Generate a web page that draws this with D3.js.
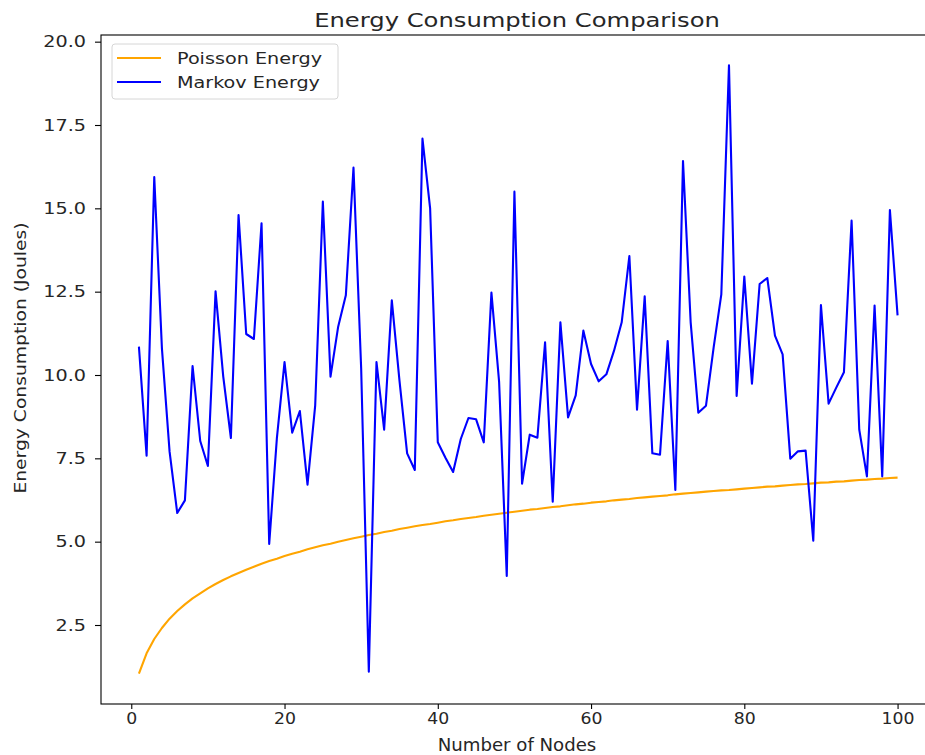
<!DOCTYPE html>
<html>
<head>
<meta charset="utf-8">
<script src="https://cdn.jsdelivr.net/npm/d3@7"></script>
<style>
  body { margin: 0; background: #fff; }
  text { font-family: "DejaVu Sans", sans-serif; fill: #262626; }
</style>
</head>
<body>
<div id="chart"></div>
<script>
const nodes = d3.range(1, 101);

const poissonEnergy = [
  1.04, 1.65, 2.08, 2.41, 2.69, 2.92, 3.12, 3.30, 3.45, 3.60,
  3.73, 3.85, 3.96, 4.06, 4.16, 4.25, 4.34, 4.42, 4.49, 4.57,
  4.64, 4.70, 4.77, 4.83, 4.89, 4.94, 5.00, 5.05, 5.10, 5.15,
  5.20, 5.24, 5.29, 5.33, 5.38, 5.42, 5.46, 5.50, 5.53, 5.57,
  5.61, 5.64, 5.68, 5.71, 5.74, 5.78, 5.81, 5.84, 5.87, 5.90,
  5.93, 5.96, 5.98, 6.01, 6.04, 6.06, 6.09, 6.12, 6.14, 6.17,
  6.19, 6.21, 6.24, 6.26, 6.28, 6.31, 6.33, 6.35, 6.37, 6.39,
  6.42, 6.44, 6.46, 6.48, 6.50, 6.52, 6.54, 6.55, 6.57, 6.59,
  6.61, 6.63, 6.65, 6.66, 6.68, 6.70, 6.72, 6.73, 6.75, 6.77,
  6.78, 6.80, 6.81, 6.83, 6.85, 6.86, 6.88, 6.89, 6.91, 6.92
];

const markovEnergy = [
  10.85, 7.58, 15.94, 10.8, 7.7, 5.86, 6.24, 10.27, 8.02, 7.27,
  12.51, 9.96, 8.11, 14.8, 11.23, 11.08, 14.55, 4.93, 8.1, 10.39,
  8.27, 8.92, 6.71, 9.08, 15.2, 9.95, 11.45, 12.39, 16.22, 10.2,
  1.10, 10.39, 8.36, 12.24, 9.83, 7.65, 7.15, 17.09, 15.0, 7.98,
  7.52, 7.09, 8.08, 8.71, 8.67, 7.98, 12.47, 9.8, 3.97, 15.5,
  6.74, 8.21, 8.12, 10.98, 6.2, 11.58, 8.73, 9.39, 11.33, 10.33,
  9.81, 10.02, 10.73, 11.58, 13.57, 8.96, 12.36, 7.65, 7.61, 11.02,
  6.55, 16.42, 11.58, 8.87, 9.08, 10.83, 12.42, 19.29, 9.37, 12.95,
  9.74, 12.73, 12.91, 11.18, 10.62, 7.49, 7.71, 7.73, 5.03, 12.1,
  9.14, 9.62, 10.08, 14.63, 8.36, 6.96, 12.08, 6.96, 14.95, 11.79
];

const xTicks = [0, 20, 40, 60, 80, 100];
const yTicks = [2.5, 5.0, 7.5, 10.0, 12.5, 15.0, 17.5, 20.0];

const width = 925, height = 755;
// picture is stretched sideways a bit, so text gets the same stretch
const sx = 1.2;

const svg = d3.select('#chart').append('svg')
  .attr('width', width)
  .attr('height', height);

const mLeft = 101, mRight = 935.5, mTop = 35, mBottom = 704;

const x = d3.scaleLinear().domain([-3.95, 104.95]).range([mLeft, mRight]);
const y = d3.scaleLinear().domain([0.13, 20.2]).range([mBottom, mTop]);

// lines
const line = d3.line().x((d, i) => x(nodes[i])).y(d => y(d));

svg.append('path')
  .datum(poissonEnergy)
  .attr('d', line)
  .attr('fill', 'none')
  .attr('stroke', 'orange')
  .attr('stroke-width', 2.1)
  .attr('stroke-linejoin', 'round');

svg.append('path')
  .datum(markovEnergy)
  .attr('d', line)
  .attr('fill', 'none')
  .attr('stroke', 'blue')
  .attr('stroke-width', 2.1)
  .attr('stroke-linejoin', 'round');

// spines
svg.append('rect')
  .attr('x', mLeft).attr('y', mTop)
  .attr('width', mRight - mLeft).attr('height', mBottom - mTop)
  .attr('fill', 'none')
  .attr('stroke', '#000')
  .attr('stroke-width', 1.1);

// x axis
const xAxis = svg.append('g')
  .attr('transform', `translate(0,${mBottom})`)
  .call(d3.axisBottom(x).tickValues(xTicks).tickSize(5).tickSizeOuter(0).tickPadding(4));
xAxis.select('.domain').remove();
xAxis.selectAll('text')
  .attr('font-size', 16)
  .attr('fill', '#262626')
  .attr('font-family', '"DejaVu Sans", sans-serif')
  .attr('transform', 'scale(1.08,1)');

// y axis
const yAxis = svg.append('g')
  .attr('transform', `translate(${mLeft},0)`)
  .call(d3.axisLeft(y).tickValues(yTicks).tickFormat(d3.format('.1f')).tickSize(6).tickSizeOuter(0).tickPadding(9));
yAxis.select('.domain').remove();
yAxis.selectAll('text')
  .attr('font-size', 16)
  .attr('fill', '#262626')
  .attr('font-family', '"DejaVu Sans", sans-serif')
  .attr('transform', `scale(${sx},1)`)
  .attr('x', -15 / sx);

svg.selectAll('.tick line').attr('stroke', '#000').attr('stroke-width', 1.1);

// title and axis labels
svg.append('text')
  .attr('transform', `translate(517,27) scale(${sx},1)`)
  .attr('text-anchor', 'middle')
  .attr('font-size', 20.2)
  .text('Energy Consumption Comparison');

svg.append('text')
  .attr('transform', `translate(517,751) scale(1.08,1)`)
  .attr('text-anchor', 'middle')
  .attr('font-size', 16.8)
  .text('Number of Nodes');

svg.append('text')
  .attr('transform', `translate(26,358) scale(1,1.17) rotate(-90)`)
  .attr('text-anchor', 'middle')
  .attr('font-size', 16)
  .text('Energy Consumption (Joules)');

// legend
const legend = svg.append('g').attr('transform', 'translate(112,44)');
legend.append('rect')
  .attr('width', 226).attr('height', 55)
  .attr('rx', 3)
  .attr('fill', 'rgba(255,255,255,0.8)')
  .attr('stroke', '#d6d6d6')
  .attr('stroke-width', 1);

const items = [
  { name: 'Poisson Energy', color: 'orange' },
  { name: 'Markov Energy', color: 'blue' }
];
items.forEach((d, i) => {
  const g = legend.append('g').attr('transform', `translate(0,${14 + i * 24})`);
  g.append('line')
    .attr('x1', 5).attr('x2', 49)
    .attr('stroke', d.color).attr('stroke-width', 2.1);
  g.append('text')
    .attr('transform', `translate(65,6) scale(${sx},1)`)
    .attr('font-size', 16)
    .text(d.name);
});
</script>
</body>
</html>
